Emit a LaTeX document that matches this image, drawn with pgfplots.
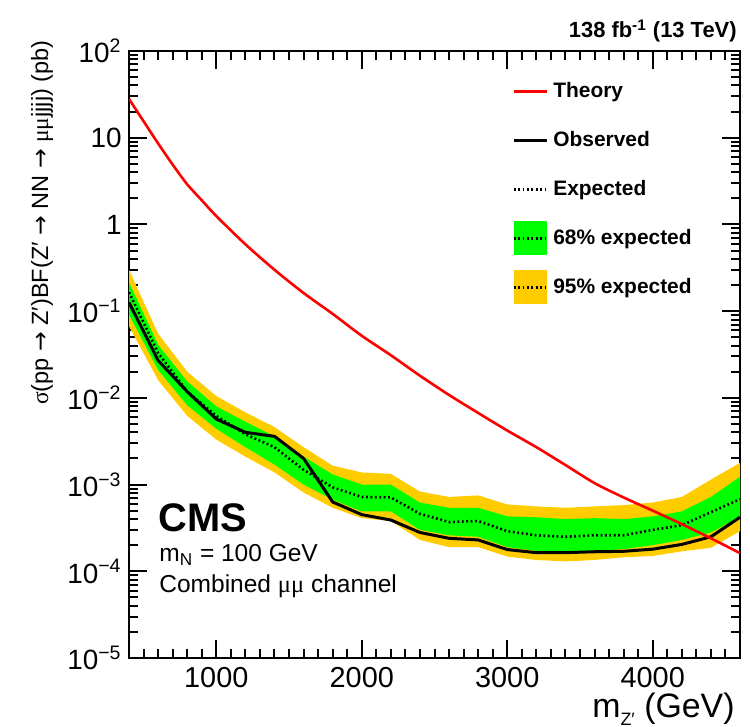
\documentclass[border=0pt]{standalone}
\usepackage{fontspec}
\setmainfont{Liberation Sans}
\newfontfamily\grk{Liberation Serif}
\newfontfamily\arr{DejaVu Sans}
\usepackage{pgfplots}
\usepackage{pgfplotstable}
\pgfplotsset{compat=1.18}
\usepgfplotslibrary{fillbetween}
\definecolor{cmsgreen}{RGB}{0,255,0}
\definecolor{cmsyellow}{RGB}{255,204,0}
\definecolor{cmsred}{RGB}{255,0,0}
\tikzset{expstyle/.style={black, line width=1.3bp, dash pattern=on 0.9bp off 1.3bp}}
\pgfplotsset{
  cmsline/.style={legend image code/.code={\path[draw=none, fill=none] (0bp,-8.5bp) rectangle (16.5bp,8.5bp); \draw[##1] (0bp,0bp) -- (16.5bp,0bp);}},
  cmsband/.style={legend image code/.code={\fill[#1, draw=none] (0bp,-8.5bp) rectangle (16.5bp,8.5bp); \draw[expstyle] (0bp,0bp) -- (16.5bp,0bp);}},
}
\pgfplotstableread{
x lo95 lo68 exp hi68 hi95 obs
400 0.067 0.091 0.165 0.215 0.30 0.126
600 0.016 0.021 0.033 0.041 0.055 0.027
800 0.0062 0.0082 0.0118 0.0155 0.020 0.0118
1000 0.0033 0.0044 0.0062 0.0080 0.0105 0.0057
1200 0.0021 0.0027 0.0038 0.0053 0.0068 0.0040
1400 0.00138 0.0017 0.0027 0.0036 0.0046 0.0036
1600 0.00081 0.0010 0.00148 0.0021 0.0027 0.0020
1800 0.00054 0.00067 0.00093 0.00131 0.00165 0.00063
2000 0.00041 0.00049 0.00072 0.00100 0.00138 0.00045
2200 0.00038 0.00049 0.00071 0.00100 0.00133 0.00039
2400 0.00023 0.00030 0.00046 0.00062 0.00083 0.00028
2600 0.00019 0.00026 0.00037 0.00054 0.00072 0.00024
2800 0.00019 0.00025 0.00038 0.00054 0.00075 0.00023
3000 0.000148 0.00019 0.00029 0.00043 0.00059 0.000178
3200 0.000135 0.000172 0.00026 0.00042 0.00056 0.000164
3400 0.00013 0.00017 0.00025 0.00040 0.00054 0.000164
3600 0.000135 0.000172 0.00026 0.00041 0.00056 0.000168
3800 0.000145 0.00018 0.00026 0.00040 0.00058 0.00017
4000 0.00015 0.00020 0.00030 0.00043 0.00062 0.00018
4200 0.00017 0.00023 0.00034 0.00049 0.00072 0.000204
4400 0.000187 0.00028 0.00048 0.00072 0.00114 0.00025
4600 0.00029 0.00042 0.00068 0.00123 0.00178 0.00042
}\limtab
\pgfplotstableread{
x th
400 28
500 15.5
600 8.6
700 4.9
800 2.9
900 1.9
1000 1.25
1200 0.59
1400 0.30
1600 0.162
1800 0.093
2000 0.052
2200 0.031
2400 0.018
2600 0.0108
2800 0.0067
3000 0.0042
3200 0.0027
3400 0.00168
3600 0.00104
3800 0.00071
4000 0.00050
4200 0.00035
4400 0.00024
4600 0.000162
}\thtab
\begin{document}
\begin{tikzpicture}
\begin{axis}[
  at={(0,0)}, anchor=south west,
  scale only axis, width=305.5bp, height=303.5bp,
  xmin=400, xmax=4600, ymode=log, ymin=1e-5, ymax=100,
  axis line style={line width=1bp},
  every tick/.style={black, line width=1bp},
  tick align=inside,
  major tick length=9bp, minor tick length=4.5bp,
  xtick={1000,2000,3000,4000},
  xticklabels={1000,2000,3000,4000},
  minor xtick={400,500,...,4600},
  ytick={1e-5,1e-4,1e-3,1e-2,1e-1,1,10,100},
  yticklabels={10\textsuperscript{−5},10\textsuperscript{−4},10\textsuperscript{−3},10\textsuperscript{−2},10\textsuperscript{−1},1,10,10\textsuperscript{2}},
  minor ytick={2e-5,3e-5,4e-5,5e-5,6e-5,7e-5,8e-5,9e-5,
               2e-4,3e-4,4e-4,5e-4,6e-4,7e-4,8e-4,9e-4,
               2e-3,3e-3,4e-3,5e-3,6e-3,7e-3,8e-3,9e-3,
               2e-2,3e-2,4e-2,5e-2,6e-2,7e-2,8e-2,9e-2,
               0.2,0.3,0.4,0.5,0.6,0.7,0.8,0.9,
               2,3,4,5,6,7,8,9,
               20,30,40,50,60,70,80,90},
  xticklabel style={font=\fontsize{14.5}{14.5}\selectfont, inner sep=0pt, yshift=-4.5bp},
  yticklabel style={font=\fontsize{14}{14}\selectfont, inner sep=0pt, xshift=-3.5bp},
  legend cell align=left,
  legend style={at={(rel axis cs:0.6267,0.9622)}, anchor=north west, draw=none, fill=none,
    inner sep=0pt, row sep=7.5bp, font=\bfseries\fontsize{10.5}{12}\selectfont,
    nodes={inner xsep=2.5bp, inner ysep=0pt}},
]
\addlegendimage{cmsline, cmsred, line width=1.3bp}
\addlegendentry{Theory}
\addlegendimage{cmsline, black, line width=1.5bp}
\addlegendentry{Observed}
\addlegendimage{cmsline, expstyle}
\addlegendentry{Expected}
\addlegendimage{cmsband=cmsgreen}
\addlegendentry{68\% expected}
\addlegendimage{cmsband=cmsyellow}
\addlegendentry{95\% expected}

\addplot[name path=h95, draw=none, forget plot] table[x=x, y=hi95]{\limtab};
\addplot[name path=l95, draw=none, forget plot] table[x=x, y=lo95]{\limtab};
\addplot[name path=h68, draw=none, forget plot] table[x=x, y=hi68]{\limtab};
\addplot[name path=l68, draw=none, forget plot] table[x=x, y=lo68]{\limtab};
\addplot[cmsyellow, draw=none, forget plot] fill between[of=h95 and l95];
\addplot[cmsgreen, draw=none, forget plot] fill between[of=h68 and l68];
\addplot[expstyle, forget plot] table[x=x, y=exp]{\limtab};
\addplot[black, line width=1.5bp, forget plot] table[x=x, y=obs]{\limtab};
\addplot[cmsred, line width=1.3bp, smooth, forget plot] table[x=x, y=th]{\thtab};
\end{axis}
\node[anchor=base west, inner sep=0pt, font=\bfseries\fontsize{20}{24}\selectfont] at (14.5bp,63bp) {CMS};
\node[anchor=base west, inner sep=0pt, font=\fontsize{12.3}{14}\selectfont] at (15bp,48bp) {m\textsubscript{N} = 100 GeV};
\node[anchor=base west, inner sep=0pt, font=\fontsize{12.3}{14}\selectfont] at (15bp,33bp) {Combined {\grk μμ} channel};
\node[anchor=base east, inner sep=0pt, font=\bfseries\fontsize{11}{13}\selectfont] at (304bp,310bp) {138 fb\textsuperscript{-1} (13 TeV)};
\node[anchor=base east, inner sep=0pt, font=\fontsize{17}{20}\selectfont] at (303bp,-29.5bp) {m\raisebox{-0.25em}{\fontsize{9}{10}\selectfont Z′} (GeV)};
\node[rotate=90, anchor=east, inner sep=0pt, font=\fontsize{11.8}{14}\selectfont] at (-43.5bp,309bp) {{\grk σ}(pp {\arr →} Z′)BF(Z′ {\arr →} NN {\arr →} {\grk μμ}jjjj) (pb)};
\pgfresetboundingbox
\path (-64.5bp,-34.5bp) rectangle (310.5bp,329bp);
\end{tikzpicture}
\end{document}
